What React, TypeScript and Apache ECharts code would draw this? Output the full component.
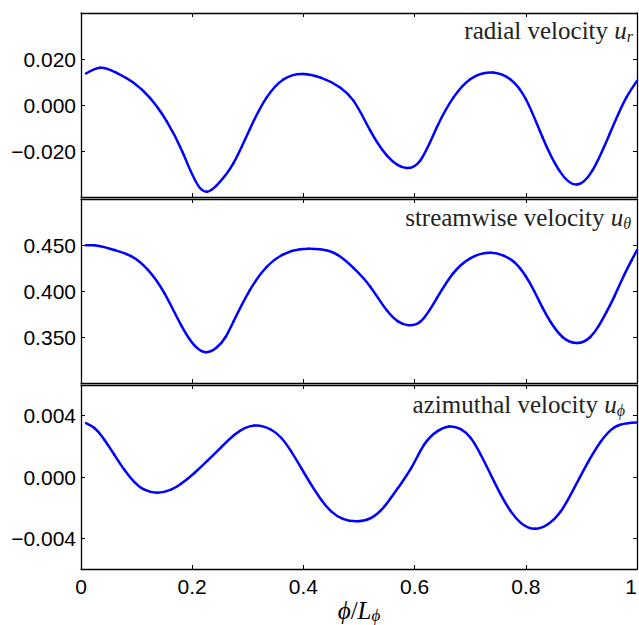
import React, { useEffect, useRef } from "react";
import * as echarts from "echarts";

// phi / L_phi positions and values
const phiR = [0.009, 0.034, 0.064, 0.094, 0.124, 0.154, 0.183, 0.214, 0.226, 0.244, 0.274, 0.304, 0.334, 0.364, 0.4, 0.43, 0.466, 0.49, 0.52, 0.55, 0.586, 0.61, 0.64, 0.67, 0.7, 0.741, 0.772, 0.8, 0.83, 0.86, 0.892, 0.92, 0.951, 0.981, 1.0];
const uR = [0.0137, 0.0162, 0.014, 0.0098, 0.0031, -0.007, -0.0207, -0.0361, -0.0377, -0.0349, -0.0254, -0.0103, 0.0033, 0.0111, 0.0135, 0.012, 0.0076, 0.0019, -0.011, -0.0219, -0.0274, -0.0242, -0.0097, 0.0033, 0.0112, 0.0141, 0.0112, 0.0026, -0.014, -0.0284, -0.0346, -0.0284, -0.0125, 0.0033, 0.0105];

const phiT = [0.009, 0.024, 0.06, 0.09, 0.12, 0.15, 0.18, 0.204, 0.225, 0.244, 0.26, 0.274, 0.304, 0.334, 0.364, 0.394, 0.41, 0.43, 0.46, 0.49, 0.52, 0.55, 0.57, 0.588, 0.61, 0.64, 0.67, 0.7, 0.737, 0.76, 0.78, 0.8, 0.815, 0.83, 0.845, 0.866, 0.892, 0.916, 0.93, 0.945, 0.96, 0.975, 0.99, 1.0];
const uT = [0.4497, 0.4497, 0.4445, 0.4379, 0.4233, 0.3977, 0.3629, 0.3409, 0.3335, 0.3385, 0.35, 0.3665, 0.4013, 0.4263, 0.4398, 0.4453, 0.4458, 0.4453, 0.4398, 0.4252, 0.405, 0.379, 0.367, 0.3629, 0.3665, 0.3922, 0.4197, 0.4355, 0.4416, 0.4385, 0.431, 0.416, 0.4, 0.382, 0.366, 0.35, 0.3435, 0.35, 0.361, 0.377, 0.395, 0.415, 0.433, 0.4445];

const phiP = [0.009, 0.024, 0.042, 0.06, 0.078, 0.096, 0.114, 0.137, 0.162, 0.18, 0.204, 0.228, 0.252, 0.276, 0.312, 0.342, 0.36, 0.378, 0.396, 0.414, 0.432, 0.45, 0.471, 0.498, 0.522, 0.546, 0.57, 0.594, 0.617, 0.642, 0.662, 0.683, 0.701, 0.719, 0.737, 0.755, 0.773, 0.791, 0.817, 0.839, 0.863, 0.887, 0.911, 0.935, 0.959, 0.983, 0.999];
const uP = [0.00351, 0.00319, 0.00243, 0.00145, 0.00047, -0.00033, -0.00083, -0.00102, -0.00083, -0.00044, 0.00026, 0.00108, 0.00193, 0.00275, 0.00336, 0.00308, 0.00256, 0.00167, 0.00059, -0.0005, -0.00148, -0.00224, -0.00273, -0.00289, -0.00267, -0.00191, -0.00072, 0.00059, 0.0021, 0.00301, 0.00329, 0.00312, 0.00254, 0.00145, 0.00015, -0.00115, -0.00224, -0.00299, -0.00338, -0.0031, -0.00224, -0.00072, 0.00091, 0.00232, 0.00323, 0.00351, 0.00355];

const xTicks = [0, 0.2, 0.4, 0.6, 0.8, 1];
const yRanges = [
  { min: -0.04, max: 0.04, ticks: [-0.02, 0, 0.02] },
  { min: 0.3, max: 0.5, ticks: [0.35, 0.4, 0.45] },
  { min: -0.006, max: 0.006, ticks: [-0.004, 0, 0.004] },
];
const panelTitles = [
  { label: "radial velocity ", sub: "r" },
  { label: "streamwise velocity ", sub: "θ" },
  { label: "azimuthal velocity ", sub: "ϕ" },
];

const SERIF = "'Liberation Serif', 'DejaVu Serif', serif";
const SANS = "'Liberation Sans', Arial, sans-serif";

// second derivatives of a natural cubic spline through screen points
function splineM(P: number[][]) {
  const n = P.length;
  const M = new Array(n).fill(0);
  if (n < 3) return M;
  const a: number[] = [], b: number[] = [], c: number[] = [], r: number[] = [];
  for (let i = 1; i < n - 1; i++) {
    const h0 = P[i][0] - P[i - 1][0], h1 = P[i + 1][0] - P[i][0];
    a.push(h0); b.push(2 * (h0 + h1)); c.push(h1);
    r.push(6 * ((P[i + 1][1] - P[i][1]) / h1 - (P[i][1] - P[i - 1][1]) / h0));
  }
  const m = b.length;
  for (let i = 1; i < m; i++) {
    const w = a[i] / b[i - 1];
    b[i] -= w * c[i - 1];
    r[i] -= w * r[i - 1];
  }
  const sol = new Array(m).fill(0);
  sol[m - 1] = r[m - 1] / b[m - 1];
  for (let i = m - 2; i >= 0; i--) sol[i] = (r[i] - c[i] * sol[i + 1]) / b[i];
  for (let i = 0; i < m; i++) M[i + 1] = sol[i];
  return M;
}

function curveSeries(pts: number[][], idx: number) {
  return {
    type: "custom",
    coordinateSystem: "cartesian2d",
    xAxisIndex: idx,
    yAxisIndex: idx,
    data: pts,
    encode: { x: 0, y: 1 },
    renderItem: (params: any, api: any) => {
      const i = params.dataIndex;
      const n = pts.length;
      if (i >= n - 1) return null;
      const P = pts.map((p) => api.coord(p));
      const M = splineM(P);
      const p1 = P[i], p2 = P[i + 1];
      const h = p2[0] - p1[0];
      const s = (p2[1] - p1[1]) / h;
      const d1 = s - (h * (2 * M[i] + M[i + 1])) / 6;
      const d2 = s + (h * (M[i] + 2 * M[i + 1])) / 6;
      const t = h / 3;
      return {
        type: "bezierCurve",
        shape: {
          x1: p1[0], y1: p1[1],
          cpx1: p1[0] + t, cpy1: p1[1] + d1 * t,
          cpx2: p2[0] - t, cpy2: p2[1] - d2 * t,
          x2: p2[0], y2: p2[1],
        },
        style: { stroke: "#0000ff", lineWidth: 2.5, fill: "none", lineCap: "round" },
        silent: true,
      };
    },
  };
}

export default function App() {
  const ref = useRef<HTMLDivElement>(null);
  useEffect(() => {
    document.body.style.margin = "0";
    if (!ref.current) return;
    const chart = echarts.init(ref.current, null, { renderer: "svg" });
    const grids = [13, 199, 385].map((top) => ({
      left: 81, right: 2, top, height: 184, containLabel: false, outerBoundsMode: "none",
    }));
    const line = { show: true, onZero: false, lineStyle: { color: "#000", width: 1.3 } };
    const tick = { show: true, inside: true, length: 4, lineStyle: { color: "#000", width: 1 } };
    const xAxis: any[] = [];
    const yAxis: any[] = [];
    for (let i = 0; i < 3; i++) {
      xAxis.push({
        type: "value", gridIndex: i, position: "bottom", min: 0, max: 1, interval: 0.2,
        axisLine: line, axisTick: { ...tick, customValues: xTicks },
        splitLine: { show: false },
        axisLabel: {
          show: i === 2, customValues: xTicks, color: "#000", fontSize: 21, fontFamily: SANS, margin: 7,
          alignMinLabel: "center", alignMaxLabel: "right",
          formatter: (v: number) => String(+v.toFixed(1)),
        },
        name: i === 2 ? "{i|ϕ}{n|/}{i|L}{s|ϕ}" : "",
        nameLocation: "middle", nameGap: 25,
        nameTextStyle: {
          rich: {
            i: { fontFamily: SERIF, fontStyle: "italic", fontSize: 25, color: "#000" },
            n: { fontFamily: SERIF, fontSize: 25, color: "#000" },
            s: { fontFamily: SERIF, fontStyle: "italic", fontSize: 17, color: "#000", padding: [11, 0, 0, 0] },
          },
        },
      });
      xAxis.push({
        type: "value", gridIndex: i, position: "top", min: 0, max: 1, interval: 0.2,
        axisLine: line, axisTick: { ...tick, customValues: xTicks },
        splitLine: { show: false }, axisLabel: { show: false },
      });
      const r = yRanges[i];
      yAxis.push({
        type: "value", gridIndex: i, position: "left", min: r.min, max: r.max,
        axisLine: line, axisTick: { ...tick, customValues: r.ticks },
        splitLine: { show: false },
        axisLabel: {
          customValues: r.ticks, color: "#000", fontSize: 21, fontFamily: SANS, margin: 5,
          formatter: (v: number) => (v < -1e-9 ? "\u2212" : "") + Math.abs(v).toFixed(3),
        },
      });
      yAxis.push({
        type: "value", gridIndex: i, position: "right", min: r.min, max: r.max,
        axisLine: line, axisTick: { ...tick, customValues: r.ticks },
        splitLine: { show: false }, axisLabel: { show: false },
      });
    }
    const titleTops = [17, 204, 391];
    const titleRights = [6, 8, 14];
    const title = panelTitles.map((t, i) => ({
      text: `{t|${t.label}}{u|u}{s|${t.sub}}`,
      right: titleRights[i], top: titleTops[i], padding: 0,
      textStyle: {
        fontWeight: "normal",
        rich: {
          t: { fontFamily: SERIF, fontSize: 25, fontWeight: "normal", color: "#222" },
          u: { fontFamily: SERIF, fontStyle: "italic", fontWeight: "normal", fontSize: 25, color: "#222" },
          s: { fontFamily: SERIF, fontStyle: "italic", fontWeight: "normal", fontSize: 16, color: "#222", padding: [11, 0, 0, 0] },
        },
      },
    }));
    const mk = (xs: number[], ys: number[]) => xs.map((x, k) => [x, ys[k]]);
    const datasets = [mk(phiR, uR), mk(phiT, uT), mk(phiP, uP)];
    const series = datasets.map((d, i) => curveSeries(d, i * 2));
    chart.setOption({ animation: false, grid: grids, xAxis, yAxis, title, series });
    return () => chart.dispose();
  }, []);
  return <div ref={ref} style={{ width: 639, height: 625 }} />;
}
